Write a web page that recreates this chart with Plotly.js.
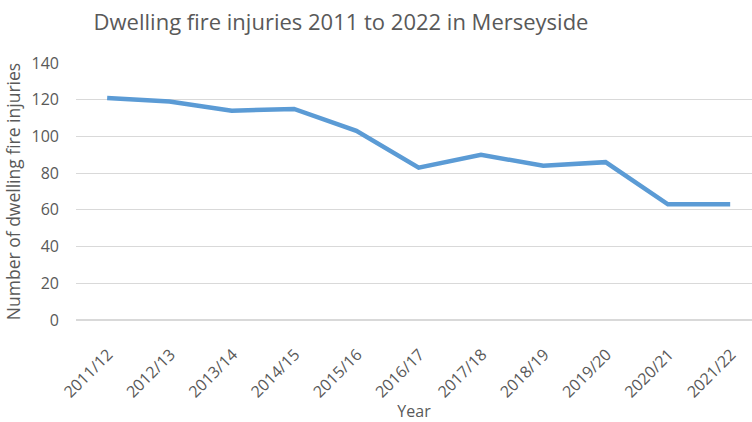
<!DOCTYPE html>
<html>
<head>
<meta charset="utf-8">
<script src="https://cdn.plot.ly/plotly-3.0.1.min.js"></script>
<style>html,body{margin:0;padding:0;background:#fff;}#chart{width:752px;height:422px;}</style>
</head>
<body>
<div id="chart"></div>
<script>
const years = ["2011/12","2012/13","2013/14","2014/15","2015/16","2016/17","2017/18","2018/19","2019/20","2020/21","2021/22"];
const injuries = [121, 119, 114, 115, 103, 83, 90, 84, 86, 63, 63];
const yTicks = [0, 20, 40, 60, 80, 100, 120, 140];

const FONT = "Open Sans, Liberation Sans, sans-serif";
const GREY = "#595959";
const trace = {
  x: years,
  y: injuries,
  type: "scatter",
  mode: "lines",
  line: {color: "#5b9bd5", width: 4.5, shape: "linear"},
  hoverinfo: "x+y"
};
const layout = {
  width: 752, height: 422,
  margin: {l: 76, r: 0, t: 63, b: 102},
  paper_bgcolor: "#ffffff",
  plot_bgcolor: "#ffffff",
  showlegend: false,
  title: {
    text: "Dwelling fire injuries 2011 to 2022 in Merseyside",
    font: {family: FONT, size: 22, color: GREY},
    x: 0.4535, xanchor: "center", y: 0.948, yanchor: "middle"
  },
  xaxis: {
    type: "category",
    range: [-0.5, 10.35],
    showgrid: false,
    zeroline: false,
    showline: false,
    ticks: "",
    tickangle: -45,
    ticklabelstandoff: 21,
    ticklabelshift: 1,
    tickfont: {family: FONT, size: 16, color: GREY},
    title: {text: "Year", font: {family: FONT, size: 16, color: GREY}, standoff: 3}
  },
  yaxis: {
    range: [0, 140],
    tickvals: yTicks,
    showgrid: true,
    gridcolor: "#d9d9d9",
    gridwidth: 1.2,
    zeroline: true,
    zerolinecolor: "#d9d9d9",
    zerolinewidth: 1.2,
    showline: false,
    ticks: "",
    ticklabelstandoff: 16,
    tickfont: {family: FONT, size: 16, color: GREY},
    title: {text: "Number of dwelling fire injuries", font: {family: FONT, size: 17.5, color: GREY}, standoff: 6}
  }
};
Plotly.newPlot("chart", [trace], layout, {displayModeBar: false, staticPlot: true});
</script>
</body>
</html>
